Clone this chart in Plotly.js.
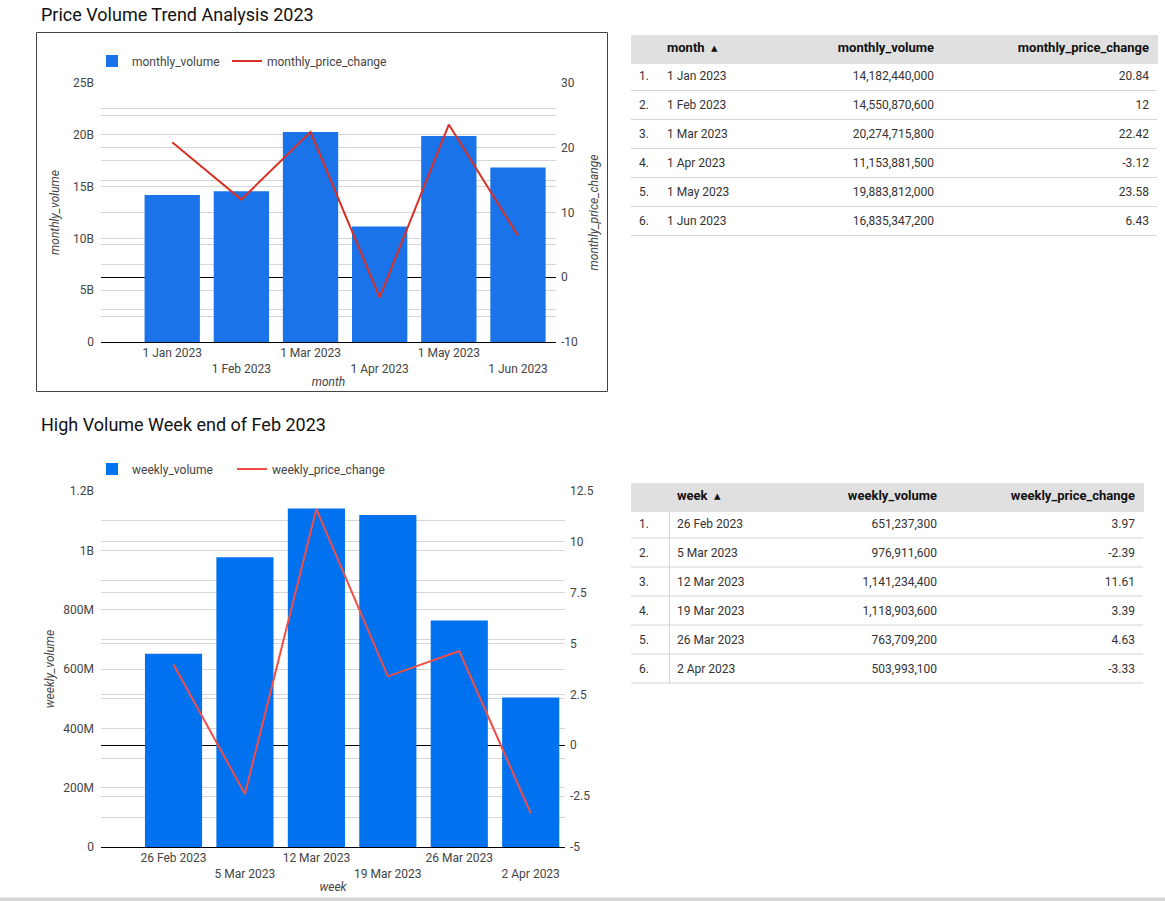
<!DOCTYPE html>
<html>
<head>
<meta charset="utf-8">
<script src="https://cdn.plot.ly/plotly-3.0.1.min.js"></script>
<style>
  html, body { margin: 0; padding: 0; background: #fff; }
  #chart { width: 1165px; height: 901px; }
</style>
</head>
<body>
<div id="chart"></div>
<script>
// ---------- data ----------
const months = ['1 Jan 2023', '1 Feb 2023', '1 Mar 2023', '1 Apr 2023', '1 May 2023', '1 Jun 2023'];
const monthlyVolume = [14182440000, 14550870600, 20274715800, 11153881500, 19883812000, 16835347200];
const monthlyPriceChange = [20.84, 12, 22.42, -3.12, 23.58, 6.43];

const weeks = ['26 Feb 2023', '5 Mar 2023', '12 Mar 2023', '19 Mar 2023', '26 Mar 2023', '2 Apr 2023'];
const weeklyVolume = [651237300, 976911600, 1141234400, 1118903600, 763709200, 503993100];
const weeklyPriceChange = [3.97, -2.39, 11.61, 3.39, 4.63, -3.33];

const rowIndex = ['1.', '2.', '3.', '4.', '5.', '6.'];

// tick labels
const monthlyVolTicks = [0, 5e9, 10e9, 15e9, 20e9, 25e9];
const monthlyVolTickText = ['0', '5B', '10B', '15B', '20B', '25B'];
const monthlyPriceTicks = [-10, 0, 10, 20, 30];
const monthlyPriceTickText = ['-10', '0', '10', '20', '30'];
const weeklyVolTicks = [0, 2e8, 4e8, 6e8, 8e8, 1e9, 1.2e9];
const weeklyVolTickText = ['0', '200M', '400M', '600M', '800M', '1B', '1.2B'];
const weeklyPriceTicks = [-5, -2.5, 0, 2.5, 5, 7.5, 10, 12.5];
const weeklyPriceTickText = ['-5', '-2.5', '0', '2.5', '5', '7.5', '10', '12.5'];

// ---------- helpers (pixel -> paper) ----------
const W = 1165, H = 901;
const px = v => v / W;
const py = v => 1 - v / H;
const FONT = 'Roboto, "Open Sans", Arial, sans-serif';
const alt = arr => arr.map((s, i) => (i % 2 ? '<br>' + s : s));

const headerFont = { family: FONT, size: 13, color: '#111' };
const cellFont = { family: FONT, size: 12, color: '#333' };
const HDR = '#e0e0e0';

const traces = [
  { type: 'bar', x: months, y: monthlyVolume, name: 'monthly_volume',
    marker: { color: '#1a73e8' }, xaxis: 'x', yaxis: 'y', legend: 'legend' },
  { type: 'scatter', mode: 'lines', x: months, y: monthlyPriceChange, name: 'monthly_price_change',
    line: { color: '#d93025', width: 2 }, xaxis: 'x', yaxis: 'y2', legend: 'legend2' },
  { type: 'bar', x: weeks, y: weeklyVolume, name: 'weekly_volume',
    marker: { color: '#0072f0' }, xaxis: 'x2', yaxis: 'y3', legend: 'legend3' },
  { type: 'scatter', mode: 'lines', x: weeks, y: weeklyPriceChange, name: 'weekly_price_change',
    line: { color: '#f24e45', width: 2 }, xaxis: 'x2', yaxis: 'y4', legend: 'legend4' },
  { type: 'table', domain: { x: [px(631), px(1157)], y: [py(250), py(32)] },
    columnwidth: [28, 101, 182, 215],
    header: {
      values: ['', '<b>month</b>  ▴', '<b>monthly_volume</b>', '<b>monthly_price_change</b>'],
      align: ['left', 'left', 'right', 'right'], height: 27,
      fill: { color: HDR }, line: { color: HDR, width: 1 },
      font: headerFont
    },
    cells: {
      values: [rowIndex, months, monthlyVolume, monthlyPriceChange],
      format: [null, null, ',d', null],
      align: ['left', 'left', 'right', 'right'], height: 29,
      fill: { color: '#ffffff' }, line: { color: '#ffffff', width: 1 },
      font: cellFont
    }
  },
  { type: 'table', domain: { x: [px(631), px(1143)], y: [py(698), py(480)] },
    columnwidth: [38, 101, 175, 198],
    header: {
      values: ['', '<b>week</b>  ▴', '<b>weekly_volume</b>', '<b>weekly_price_change</b>'],
      align: ['left', 'left', 'right', 'right'], height: 27,
      fill: { color: HDR }, line: { color: HDR, width: 1 },
      font: headerFont
    },
    cells: {
      values: [rowIndex, weeks, weeklyVolume, weeklyPriceChange],
      format: [null, null, ',d', null],
      align: ['left', 'left', 'right', 'right'], height: 29,
      fill: { color: '#ffffff' }, line: { color: '#ffffff', width: 1 },
      font: cellFont
    }
  }
];

const tickFont = { family: FONT, size: 12, color: '#444' };
const titleFont = { family: FONT, size: 12, color: '#444', style: 'italic' };
const GRID = '#d6d6d6';

const shapes = [];
const paperRect = (x0, x1, y0, y1, color) => ({ type: 'rect', xref: 'paper', yref: 'paper',
  x0: px(x0), x1: px(x1), y0: py(y1), y1: py(y0), line: { width: 0 }, fillcolor: color, layer: 'above' });
// header band trims (header band 35-62 / 483-509)
shapes.push(paperRect(630, 1158, 31, 35, '#ffffff'));
shapes.push(paperRect(631, 1157, 58.5, 62, HDR));
shapes.push(paperRect(630, 1144, 479, 483, '#ffffff'));
shapes.push(paperRect(631, 1143, 506.5, 509.5, HDR));
// table row separators
function rowLines(x0, x1, top, n) {
  for (let i = 1; i <= n; i++) {
    const y = top + 29 * i - 0.5;
    shapes.push({ type: 'line', xref: 'paper', yref: 'paper', x0: px(x0), x1: px(x1), y0: py(y), y1: py(y),
      line: { color: '#d4d4d4', width: 1 }, layer: 'above' });
  }
}
rowLines(631, 1157, 62, months.length);
rowLines(631, 1143, 509.5, weeks.length);
shapes.push({ type: 'line', xref: 'paper', yref: 'paper', x0: px(669.5), x1: px(669.5), y0: py(509.5), y1: py(509.5 + 29 * weeks.length),
  line: { color: '#d4d4d4', width: 1 }, layer: 'above' });
// chart 1 border
shapes.push({ type: 'rect', xref: 'paper', yref: 'paper', x0: px(36.5), x1: px(607.5), y0: py(391.5), y1: py(32.5),
  line: { color: '#444', width: 1 }, layer: 'below' });
// bottom strip
shapes.push({ type: 'rect', xref: 'paper', yref: 'paper', x0: 0, x1: 1, y0: 0, y1: py(897.5),
  line: { width: 0 }, fillcolor: '#d6d6d6', layer: 'above' });

const yCommon = {
  tickfont: tickFont, ticks: '', gridcolor: GRID, showgrid: true, tickmode: 'array', fixedrange: true
};
const legendAt = (xPix, yPix) => ({ orientation: 'h', x: px(xPix), y: py(yPix), xanchor: 'left', yanchor: 'middle',
  font: { family: FONT, size: 12, color: '#444' }, bgcolor: 'rgba(0,0,0,0)', itemwidth: 30 });

const layout = {
  width: W, height: H,
  margin: { l: 0, r: 0, t: 0, b: 0 },
  paper_bgcolor: '#fff', plot_bgcolor: 'rgba(0,0,0,0)',
  font: { family: FONT, size: 12, color: '#444' },
  bargap: 0.2,
  showlegend: true,
  legend: legendAt(92, 61),
  legend2: legendAt(227, 61),
  legend3: legendAt(92, 469),
  legend4: legendAt(232, 469),
  xaxis: {
    domain: [px(101), px(556)], anchor: 'y', type: 'category', range: [-1.03, 5.55],
    tickvals: months, ticktext: alt(months), tickfont: tickFont, ticks: '',
    showgrid: false, showline: true, linecolor: '#000', linewidth: 1,
    title: { text: 'month', font: titleFont, standoff: 2 }, fixedrange: true
  },
  yaxis: Object.assign({}, yCommon, {
    domain: [py(342), py(83)], anchor: 'x', range: [0, 25e9],
    tickvals: monthlyVolTicks, ticktext: monthlyVolTickText, zeroline: false, ticklabelstandoff: 6,
    minor: { dtick: 2.5e9, tick0: 0, showgrid: true, gridcolor: GRID, ticks: '' },
    title: { text: 'monthly_volume', font: titleFont, standoff: 10 }
  }),
  yaxis2: Object.assign({}, yCommon, {
    overlaying: 'y', side: 'right', anchor: 'x', range: [-10, 30],
    tickvals: monthlyPriceTicks, ticktext: monthlyPriceTickText, ticklabelstandoff: 4,
    zeroline: true, zerolinecolor: '#000', zerolinewidth: 1,
    minor: { dtick: 5, tick0: 0, showgrid: true, gridcolor: GRID, ticks: '' },
    title: { text: 'monthly_price_change', font: titleFont, standoff: 12 }
  }),
  xaxis2: {
    domain: [px(101), px(565)], anchor: 'y3', type: 'category', range: [-1.015, 5.48],
    tickvals: weeks, ticktext: alt(weeks), tickfont: tickFont, ticks: '',
    showgrid: false, showline: true, linecolor: '#000', linewidth: 1,
    title: { text: 'week', font: titleFont, standoff: 2 }, fixedrange: true
  },
  yaxis3: Object.assign({}, yCommon, {
    domain: [py(847), py(491)], anchor: 'x2', range: [0, 1.2e9],
    tickvals: weeklyVolTicks, ticktext: weeklyVolTickText, zeroline: false, ticklabelstandoff: 6,
    minor: { dtick: 1e8, tick0: 0, showgrid: true, gridcolor: GRID, ticks: '' },
    title: { text: 'weekly_volume', font: titleFont, standoff: 6 }
  }),
  yaxis4: Object.assign({}, yCommon, {
    overlaying: 'y3', side: 'right', anchor: 'x2', range: [-5, 12.5],
    tickvals: weeklyPriceTicks, ticktext: weeklyPriceTickText, ticklabelstandoff: 4,
    zeroline: true, zerolinecolor: '#000', zerolinewidth: 1
  }),
  annotations: [
    { text: 'Price Volume Trend Analysis 2023', xref: 'paper', yref: 'paper', x: px(39), y: py(15),
      xanchor: 'left', yanchor: 'middle', showarrow: false, font: { family: FONT, size: 18, color: '#111' } },
    { text: 'High Volume Week end of Feb 2023', xref: 'paper', yref: 'paper', x: px(39), y: py(424),
      xanchor: 'left', yanchor: 'middle', showarrow: false, font: { family: FONT, size: 18, color: '#111' } }
  ],
  shapes: shapes
};

Plotly.newPlot('chart', traces, layout, { staticPlot: true, displayModeBar: false });
</script>
</body>
</html>
